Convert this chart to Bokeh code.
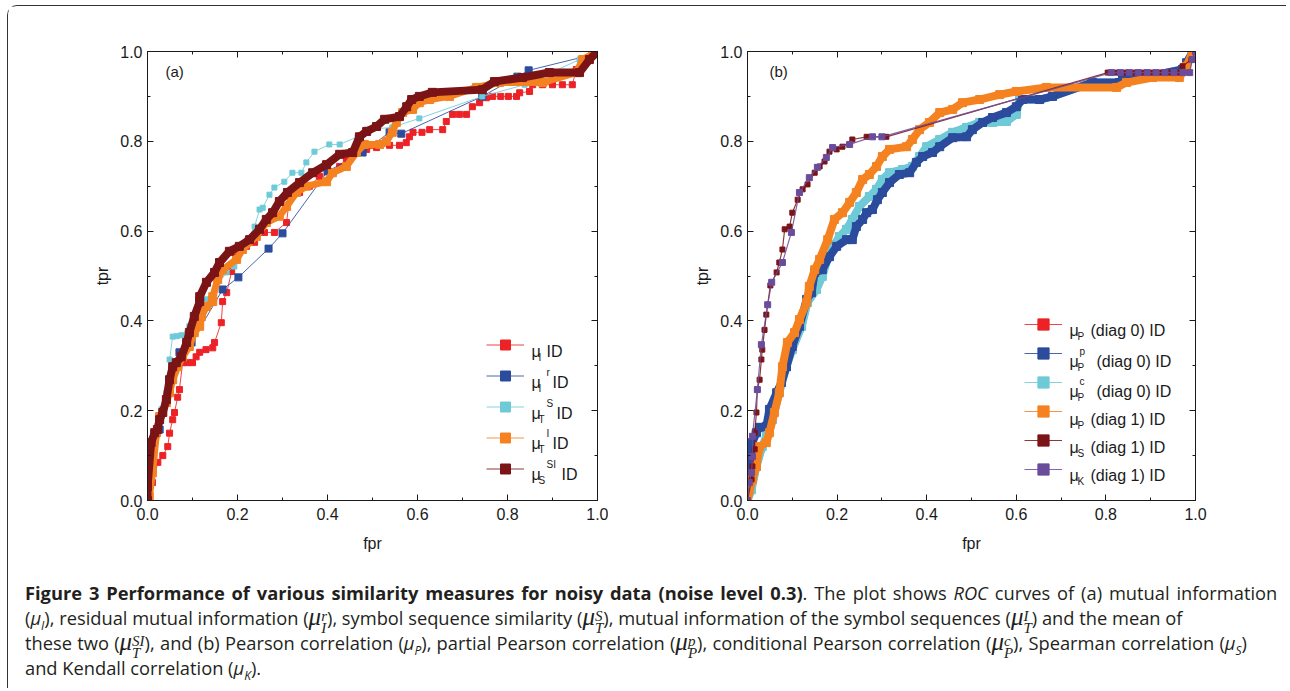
from bokeh.plotting import figure
from bokeh.layouts import column, row
from bokeh.models import (Div, LinearAxis, Label, Range1d, SingleIntervalTicker,
                          NumeralTickFormatter, Legend, LegendItem)
from bokeh.core.properties import value
from bokeh.embed import file_html
from bokeh.resources import INLINE

# ---------------- data (fpr, tpr) ----------------
# panel (a)
mu_I = [(0, 0), (.011, .040), (.023, .085), (.034, .100), (.045, .120), (.049, .150), (.056, .180),
        (.060, .196), (.067, .230), (.071, .247), (.078, .307), (.089, .307), (.100, .307), (.108, .320),
        (.116, .330), (.130, .336), (.145, .340), (.149, .352), (.164, .396), (.167, .443), (.176, .463),
        (.187, .510), (.198, .552), (.220, .566), (.238, .575), (.260, .597), (.282, .597), (.309, .619),
        (.316, .677), (.338, .686), (.360, .700), (.382, .722), (.410, .730), (.427, .744), (.442, .759),
        (.464, .775), (.487, .782), (.509, .786), (.538, .791), (.560, .791), (.575, .797), (.582, .810),
        (.590, .820), (.610, .820), (.627, .826), (.656, .826), (.664, .844), (.678, .860), (.693, .860),
        (.709, .860), (.722, .877), (.738, .886), (.753, .897), (.767, .900), (.785, .900), (.802, .900),
        (.820, .900), (.827, .908), (.849, .911), (.856, .926), (.878, .926), (.900, .926), (.922, .926),
        (.944, .926), (.953, .960), (.967, .970), (.998, .998), (1.0, 1.0)]
mu_I_r = [(0, 0), (.027, .158), (.071, .330), (.098, .352), (.167, .470), (.202, .497), (.269, .561),
          (.300, .595), (.400, .733), (.478, .775), (.538, .820), (.564, .817), (.744, .900),
          (.822, .944), (.847, .958), (.989, .993), (1.0, 1.0)]
mu_T_S = [(0, 0), (.004, .040), (.020, .143), (.031, .203), (.042, .240), (.049, .314), (.056, .365),
          (.065, .366), (.075, .368), (.087, .370), (.093, .388), (.109, .419), (.131, .448), (.176, .508),
          (.193, .521), (.222, .581), (.238, .610), (.249, .648), (.256, .652), (.271, .681), (.282, .697),
          (.304, .710), (.322, .730), (.342, .730), (.353, .753), (.371, .777), (.404, .793), (.427, .793),
          (.467, .810), (.487, .826), (.544, .831), (.604, .851), (.744, .900), (.838, .926), (.960, .982),
          (1.0, 1.0)]
mu_T_I = [(0, 0), (.004, .009), (.011, .062), (.020, .151), (.027, .187), (.042, .218), (.049, .240),
          (.056, .269), (.067, .298), (.078, .320), (.093, .343), (.104, .374), (.116, .388), (.120, .410),
          (.131, .432), (.145, .443), (.145, .454), (.156, .492), (.167, .514), (.198, .537), (.211, .559),
          (.242, .588), (.264, .619), (.293, .633), (.309, .655), (.331, .686), (.353, .700), (.398, .710),
          (.411, .730), (.442, .744), (.464, .775), (.482, .793), (.516, .793), (.531, .800), (.544, .820),
          (.553, .842), (.567, .864), (.589, .871), (.604, .886), (.627, .893), (.671, .900), (.731, .920),
          (.782, .931), (.878, .931), (.953, .953), (.967, .982), (1.0, 1.0)]
mu_S_SI = [(0, 0), (0, .031), (.008, .129), (.016, .151), (.022, .158), (.027, .180), (.034, .196),
           (.042, .225), (.049, .269), (.056, .298), (.064, .307), (.075, .320), (.087, .352), (.093, .374),
           (.104, .410), (.116, .443), (.116, .454), (.131, .486), (.149, .508), (.160, .530), (.182, .555),
           (.204, .566), (.227, .581), (.249, .604), (.264, .626), (.278, .641), (.293, .666), (.311, .686),
           (.338, .708), (.367, .730), (.398, .748), (.427, .771), (.456, .775), (.471, .810), (.487, .822),
           (.509, .833), (.527, .849), (.560, .855), (.576, .877), (.587, .893), (.604, .900), (.633, .909),
           (.744, .915), (.771, .933), (.833, .942), (.893, .953), (.960, .953), (.982, .982), (1.0, 1.0)]

# panel (b)
mu_P_c = [(0, 0), (.009, .024), (.020, .076), (.033, .120), (.042, .143), (.056, .180), (.071, .240),
          (.087, .298), (.100, .336), (.121, .388), (.134, .441), (.154, .470), (.167, .499), (.183, .552),
          (.205, .588), (.221, .604), (.234, .626), (.250, .655), (.272, .677), (.288, .693), (.301, .715),
          (.317, .730), (.346, .737), (.368, .744), (.384, .766), (.400, .788), (.429, .804), (.458, .820),
          (.489, .831), (.518, .842), (.547, .842), (.578, .844), (.600, .860), (.607, .893), (.652, .893),
          (.681, .900), (.770, .931), (.830, .931), (.891, .944), (.971, .960), (1.0, 1.0)]
mu_P_d0 = list(mu_P_c)
mu_P_p = [(0, 0), (.004, .047), (.011, .129), (.020, .151), (.027, .163), (.042, .165), (.049, .203),
          (.065, .240), (.076, .263), (.087, .298), (.100, .343), (.116, .388), (.132, .448), (.143, .463),
          (.150, .508), (.167, .514), (.183, .543), (.199, .566), (.221, .581), (.234, .581), (.243, .610),
          (.257, .626), (.266, .641), (.279, .648), (.290, .670), (.301, .686), (.317, .708), (.339, .726),
          (.362, .730), (.377, .753), (.391, .766), (.413, .775), (.429, .788), (.458, .808), (.489, .810),
          (.502, .826), (.525, .842), (.547, .853), (.578, .864), (.600, .877), (.614, .893), (.652, .893),
          (.681, .900), (.770, .931), (.830, .931), (.837, .938), (.891, .944), (.971, .960), (.980, .975),
          (.993, .998), (1.0, 1.0)]
mu_P_d1 = [(0, 0), (.011, .047), (.020, .076), (.027, .120), (.042, .129), (.049, .151), (.060, .196),
           (.071, .240), (.078, .298), (.089, .352), (.105, .374), (.116, .403), (.132, .441), (.138, .477),
           (.150, .514), (.161, .537), (.179, .581), (.194, .626), (.212, .641), (.228, .664), (.243, .686),
           (.257, .715), (.272, .726), (.288, .744), (.301, .766), (.317, .782), (.355, .788), (.368, .804),
           (.384, .826), (.406, .842), (.429, .864), (.458, .871), (.480, .886), (.518, .893), (.563, .904),
           (.600, .911), (.667, .920), (.824, .920), (.846, .931), (.904, .942), (.964, .942), (.980, .967),
           (.993, .998), (1.0, 1.0)]
mu_S = [(0, 0), (.009, .047), (.011, .076), (.016, .114), (.016, .151), (.020, .196), (.022, .247),
        (.027, .269), (.031, .314), (.033, .336), (.038, .380), (.042, .414), (.051, .479), (.065, .508),
        (.071, .530), (.078, .559), (.083, .604), (.094, .610), (.100, .641), (.112, .670), (.123, .693),
        (.134, .704), (.150, .730), (.161, .744), (.172, .755), (.183, .777), (.199, .782), (.212, .788),
        (.234, .804), (.266, .810), (.310, .810), (.804, .953), (.824, .953), (.844, .953), (.864, .953),
        (.884, .953), (.904, .953), (.924, .953), (.944, .953), (.964, .953), (.971, .967), (.991, .982),
        (1.0, 1.0)]
mu_K = [(0, 0), (.004, .040), (.009, .062), (.011, .098), (.011, .143), (.022, .247), (.031, .347),
        (.045, .436), (.054, .486), (.078, .530), (.098, .597), (.116, .686), (.138, .719), (.156, .742),
        (.176, .764), (.190, .786), (.228, .793), (.279, .810), (.300, .810), (.812, .953), (.832, .953),
        (.852, .953), (.872, .953), (.892, .953), (.912, .953), (.932, .953), (.952, .953), (.972, .953),
        (.987, .953), (.993, .982), (1.0, 1.0)]

labels_a = [("I", "", "ID"), ("I", "r", "ID"), ("T", "S", "ID"), ("T", "I", "ID"), ("S", "SI", "ID")]
labels_b = [("P", "", "(diag 0) ID"), ("P", "p", "(diag 0) ID"), ("P", "c", "(diag 0) ID"),
            ("P", "", "(diag 1) ID"), ("S", "", "(diag 1) ID"), ("K", "", "(diag 1) ID")]

RED, BLUE, CYAN, ORANGE, DRED, PURPLE = "#ec2227", "#2b4b9c", "#6fcad8", "#f58220", "#7b1416", "#6a4c9b"
FONT = "Liberation Sans"
INK = "#1a1a1a"


def make_fig(frame_w, mbl, mbr):
    p = figure(frame_width=frame_w, frame_height=449, x_range=Range1d(0, 1), y_range=Range1d(0, 1),
               output_backend="svg", toolbar_location=None,
               min_border_left=mbl, min_border_right=mbr, min_border_top=45, min_border_bottom=70)
    p.grid.visible = False
    p.outline_line_color = INK
    p.background_fill_color = "white"
    p.border_fill_color = "white"
    p.add_layout(LinearAxis(), "above")
    p.add_layout(LinearAxis(), "right")
    for ax in p.axis:
        ax.ticker = SingleIntervalTicker(interval=0.2, num_minor_ticks=2)
        ax.formatter = NumeralTickFormatter(format="0.0")
        ax.major_tick_in = 6
        ax.major_tick_out = 0
        ax.minor_tick_in = 3
        ax.minor_tick_out = 0
        ax.axis_line_color = INK
        ax.major_tick_line_color = INK
        ax.minor_tick_line_color = INK
        ax.major_label_text_font = FONT
        ax.major_label_text_font_size = "16px"
        ax.major_label_text_color = INK
        ax.axis_label_text_font = FONT
        ax.axis_label_text_font_size = "16px"
        ax.axis_label_text_font_style = "normal"
        ax.axis_label_text_color = INK
    for ax in (p.above[0], p.right[0]):
        ax.major_label_text_font_size = "1px"
        ax.major_label_text_color = None
        ax.major_label_standoff = 0
    bx, ly = p.below[0], p.left[0]
    bx.axis_label = "fpr"
    ly.axis_label = "tpr"
    bx.major_label_standoff = 7
    bx.axis_label_standoff = 12
    ly.major_label_standoff = 5
    ly.axis_label_standoff = 6
    return p


def add_series(p, pts, color, msize, band=0, lw=1.0, lalpha=0.85):
    xs = [a for a, b in pts]
    ys = [b for a, b in pts]
    if band:
        p.line(xs, ys, line_color=color, line_width=band, line_join="miter")
    ln = p.line(xs, ys, line_color=color, line_width=lw, line_alpha=lalpha)
    sc = p.scatter(xs, ys, marker="square", size=msize, fill_color=color, line_color=color)
    return [ln, sc]


def add_legend(p, renderer_groups, loc, gh, spacing):
    items = [LegendItem(label=value(" "), renderers=rs) for rs in renderer_groups]
    lg = Legend(items=items, location=loc, glyph_width=38, glyph_height=gh, label_width=0,
                label_height=gh, spacing=spacing, padding=0, margin=0, border_line_color=None,
                background_fill_alpha=0, label_text_font_size="1px", label_text_color=None,
                label_standoff=0)
    p.add_layout(lg)


def add_math_labels(p, frame_left, frame_w, rows_y, mu_x, sub_x, sup_x, rest_x, labels):
    def dx(px):
        return (px - frame_left) / frame_w

    def dy(py):
        return (501 - py) / 449

    for cy, rx, (sub, sup, rest) in zip(rows_y, rest_x, labels):
        common = dict(text_font=FONT, text_color=INK, text_baseline="alphabetic", text_align="left")
        p.add_layout(Label(x=dx(mu_x), y=dy(cy + 6), text="μ", text_font_size="16px", **common))
        p.add_layout(Label(x=dx(sub_x + 1), y=dy(cy + 12), text=sub, text_font_size="10px", **common))
        if sup:
            p.add_layout(Label(x=dx(sup_x), y=dy(cy - 4), text=sup, text_font_size="10px", **common))
        p.add_layout(Label(x=dx(rx), y=dy(cy + 6), text=rest, text_font_size="16px", **common))


# ---------------- panel (a) ----------------
pa = make_fig(450, 139, 11)
ga = [add_series(pa, mu_I, RED, 6, lw=1.0),
      add_series(pa, mu_I_r, BLUE, 7, lw=1.0),
      add_series(pa, mu_T_S, CYAN, 5, lw=1.0),
      add_series(pa, mu_T_I, ORANGE, 8, band=7, lw=1.0),
      add_series(pa, mu_S_SI, DRED, 8, band=8, lw=1.0)]
add_legend(pa, ga, (339, 19), 25, 6)
add_math_labels(pa, 148, 450, [346, 377, 408, 438, 469], 532, 538, 547, [547, 553, 557, 553, 562], labels_a)
pa.add_layout(Label(x=0.04, y=0.956, text="(a)", text_font=FONT, text_font_size="15px",
                    text_color=INK, text_baseline="middle"))

# ---------------- panel (b) ----------------
pb = make_fig(448, 139, 20)
gb_red = add_series(pb, mu_P_d0, RED, 7, band=7, lw=1.0)
gb_cyan = add_series(pb, mu_P_c, CYAN, 8, band=8, lw=1.0)
gb_blue = add_series(pb, mu_P_p, BLUE, 8, band=8, lw=1.0)
gb_orange = add_series(pb, mu_P_d1, ORANGE, 8, band=8, lw=1.0)
gb_dred = add_series(pb, mu_S, DRED, 5, lw=1.2)
gb_purple = add_series(pb, mu_K, PURPLE, 6, lw=1.2)
add_legend(pb, [gb_red, gb_blue, gb_cyan, gb_orange, gb_dred, gb_purple], (277, 17), 28, 1)
add_math_labels(pb, 748, 448, [325, 356, 386, 414, 442, 470], 1070, 1077, 1080,
                [1091, 1097, 1097, 1091, 1091, 1091], labels_b)
pb.add_layout(Label(x=0.049, y=0.956, text="(b)", text_font=FONT, text_font_size="15px",
                    text_color=INK, text_baseline="middle"))

# ---------------- caption ----------------
SERIF = "font-family:'Liberation Serif';font-style:italic;"


def mm(sub, sup):
    return (f"<span style=\"{SERIF}font-size:25px;line-height:18px;\">μ</span>"
            f"<span style=\"display:inline-block;vertical-align:-8px;{SERIF}font-size:15px;"
            f"line-height:12px;\">{sup}<br>{sub}</span>")


def sm(sub):
    return f"<i>μ<sub style='font-size:12px;line-height:0'>{sub}</sub></i>"


lines = [
    ("2.1px", "<b>Figure 3 Performance of various similarity measures for noisy data (noise level 0.3)</b>. "
              "The plot shows <i>ROC</i> curves of (a) mutual information"),
    ("0px", f"({sm('I')}), residual mutual information ({mm('I', 'r')}), symbol sequence similarity "
            f"({mm('T', 'S')}), mutual information of the symbol sequences ({mm('T', 'I')}) and the mean of"),
    ("0.5px", f"these two ({mm('T', 'SI')}), and (b) Pearson correlation ({sm('P')}), partial Pearson correlation "
              f"({mm('P', 'p')}), conditional Pearson correlation ({mm('P', 'c')}), Spearman correlation ({sm('S')})"),
    ("0px", f"and Kendall correlation ({sm('K')})."),
]
html = "".join(
    f"<div style=\"white-space:nowrap;height:25px;line-height:25px;word-spacing:{ws};\">{ln}</div>"
    for ws, ln in lines)
caption = Div(text=html, width=1268, height=108,
              styles={"font-family": "'Open Sans'", "font-size": "18.3px", "color": "#231f20",
                      "padding-left": "12px", "padding-top": "5px"})

layout = column(row(pa, pb), caption,
                styles={"border-left": "1.5px solid #333", "border-top": "1.5px solid #333",
                        "border-top-left-radius": "10px", "margin-left": "7px", "margin-top": "5px"})

open("out.html", "w").write(file_html(layout, INLINE))
